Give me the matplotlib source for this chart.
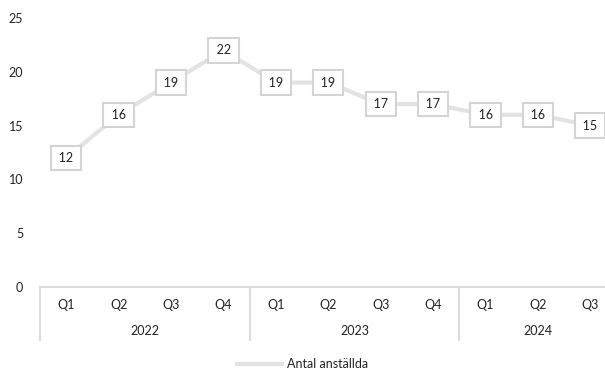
import matplotlib
matplotlib.use("Agg")
import matplotlib.pyplot as plt
from matplotlib.lines import Line2D

plt.rcParams['font.family'] = ['Lato', 'DejaVu Sans']

years = ["2022", "2023", "2024"]
quarters = ["Q1", "Q2", "Q3", "Q4", "Q1", "Q2", "Q3", "Q4", "Q1", "Q2", "Q3"]
year_groups = [4, 4, 3]
values = [12, 16, 19, 22, 19, 19, 17, 17, 16, 16, 15]
series_name = "Antal anställda"
yticks = [0, 5, 10, 15, 20, 25]

W, H = 605, 374
fig = plt.figure(figsize=(W/100, H/100), dpi=100)
left, right, top, bottom = 40, 616.5, 18, 287
ax = fig.add_axes([left/W, 1 - bottom/H, (right-left)/W, (bottom-top)/H])
ax.set_xlim(-0.5, len(values) - 0.5)
ax.set_ylim(0, 25)

fs = 9
line_col = '#e3e3e3'
box_edge = '#d4d4d4'
text_col = '#222222'
x = list(range(len(values)))
ax.plot(x, values, color=line_col, lw=3, zorder=2, solid_capstyle='butt')
for xi, v in zip(x, values):
    ax.text(xi, v, f"\u2009{v}\u2009", ha='center', va='center', fontsize=fs, color=text_col, zorder=3,
            family=['Lato', 'DejaVu Sans'],
            bbox=dict(boxstyle='square,pad=0.5', fc='white', ec=box_edge, lw=1.5))

for s in ['top', 'right', 'left']:
    ax.spines[s].set_visible(False)
ax.spines['bottom'].set_color('#dcdcdc')
ax.spines['bottom'].set_linewidth(1.5)
ax.set_xticks([])
ax.set_yticks(yticks)
ax.set_yticklabels([str(t) for t in yticks], fontsize=fs, color=text_col)
ax.tick_params(axis='y', length=0, pad=12)

trans = ax.get_xaxis_transform()
for xi, q in zip(x, quarters):
    ax.text(xi, -0.068, q, transform=trans, ha='center', va='center', fontsize=fs, color=text_col)
start = 0
bounds = [-0.5]
for yr, n in zip(years, year_groups):
    mid = start + (n - 1) / 2
    ax.text(mid, -0.163, yr, transform=trans, ha='center', va='center', fontsize=fs, color=text_col)
    start += n
    bounds.append(start - 0.5)
for b in bounds[:-1]:
    ax.add_line(Line2D([b, b], [0, -0.197], transform=trans, color='#dcdcdc', lw=1.5, clip_on=False))

handle = Line2D([], [], color=line_col, lw=3)
fig.legend([handle], [series_name], loc='center', bbox_to_anchor=(0.5, 1 - 364/H), frameon=False,
           fontsize=fs, handlelength=3.6, handletextpad=0.4, labelcolor=text_col)

fig.savefig('out.png', dpi=100)
